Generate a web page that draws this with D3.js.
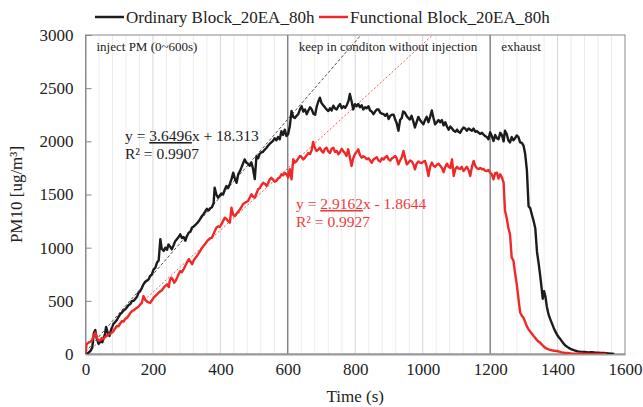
<!DOCTYPE html>
<html>
<head>
<meta charset="utf-8">
<script src="https://cdn.jsdelivr.net/npm/d3@7/dist/d3.min.js"></script>
<style>
  html, body { margin: 0; padding: 0; background: #fff; }
  svg text { font-family: "Liberation Serif", "Times New Roman", serif; }
</style>
</head>
<body>
<svg id="chart" width="643" height="407"></svg>
<script>
// Series names and legend colours
const seriesNames = ["Ordinary Block_20EA_80h", "Functional Block_20EA_80h"];
const seriesColors = ["#1c1c1c", "#f02828"];

// Phase labels placed at the start of each test phase (time in s)
const phaseStarts = [0, 600, 1200];
const phaseLabels = ["inject PM (0~600s)", "keep in conditon without injection", "exhaust"];

// Axis ticks
const xTicks = [0, 200, 400, 600, 800, 1000, 1200, 1400, 1600];
const yTicks = [0, 500, 1000, 1500, 2000, 2500, 3000];

// Linear fits over the injection phase: [slope, intercept, R²]
const ordinaryFit = [3.6496, 18.313, 0.9907];
const functionalFit = [2.9162, -1.8644, 0.9927];

// Ordinary block: [time (s), PM10 (ug/m³)]
const ordinarySeries = [
[0,0],[5,5],[10,15],[15,30],[20,60],[25,200],[29,225],[33,150],[39,95],[45,120],[50,110],[53,145],[58,190],[61,255],[66,200],[71,170],[76,230],[80,260],[83,285],[88,300],[93,320],[98,350],[103,375],[108,390],[113,410],[118,420],[123,440],[128,460],[133,470],[138,500],[143,500],[148,520],[153,540],[157,575],[162,590],[167,620],[172,655],[177,680],[182,690],[187,700],[192,735],[197,750],[202,795],[207,810],[212,860],[217,880],[222,1080],[226,990],[232,970],[237,1000],[242,980],[246,1030],[251,1010],[256,985],[261,1020],[266,1060],[271,1080],[276,1100],[281,1125],[286,1090],[291,1100],[296,1065],[301,1110],[306,1140],[311,1150],[316,1190],[321,1200],[326,1215],[331,1230],[336,1250],[341,1275],[346,1300],[350,1315],[355,1340],[360,1365],[365,1350],[370,1370],[375,1380],[380,1420],[383,1565],[388,1500],[393,1470],[398,1490],[403,1510],[408,1500],[413,1545],[418,1580],[423,1560],[428,1600],[433,1645],[438,1705],[443,1650],[448,1610],[453,1690],[458,1720],[462,1750],[467,1790],[472,1830],[477,1800],[482,1790],[487,1770],[492,1800],[497,1740],[502,1645],[507,1860],[512,1840],[516,1880],[521,1895],[526,1900],[531,1920],[537,1940],[542,1960],[546,1975],[551,1990],[556,2005],[561,2030],[566,2010],[571,2040],[576,2020],[581,2095],[586,2060],[591,2110],[596,2050],[601,2070],[606,2145],[611,2285],[616,2230],[621,2220],[626,2240],[631,2255],[636,2300],[641,2330],[646,2280],[651,2300],[656,2255],[661,2290],[666,2320],[671,2300],[676,2260],[681,2250],[686,2330],[690,2370],[695,2410],[700,2360],[705,2340],[710,2320],[715,2300],[720,2285],[725,2310],[730,2290],[735,2335],[740,2310],[745,2300],[750,2330],[755,2350],[760,2310],[765,2330],[770,2315],[775,2340],[780,2380],[784,2445],[789,2380],[794,2300],[799,2350],[804,2330],[809,2350],[814,2320],[819,2340],[824,2300],[829,2320],[834,2310],[839,2330],[844,2290],[849,2280],[854,2255],[859,2280],[864,2300],[869,2300],[874,2270],[879,2260],[884,2255],[889,2240],[894,2260],[899,2210],[904,2240],[909,2250],[914,2250],[919,2200],[923,2170],[928,2100],[933,2200],[938,2220],[942,2280],[947,2270],[952,2240],[957,2220],[962,2205],[967,2240],[972,2190],[977,2130],[982,2180],[987,2230],[992,2200],[997,2180],[1002,2160],[1007,2200],[1012,2230],[1017,2180],[1022,2230],[1027,2290],[1032,2220],[1037,2160],[1042,2180],[1047,2200],[1052,2180],[1057,2200],[1062,2150],[1067,2180],[1072,2140],[1077,2110],[1082,2140],[1087,2120],[1092,2100],[1097,2090],[1102,2110],[1106,2090],[1111,2080],[1116,2110],[1121,2130],[1126,2120],[1131,2100],[1136,2120],[1141,2110],[1146,2100],[1151,2120],[1156,2090],[1161,2095],[1166,2080],[1171,2070],[1176,2080],[1180,2065],[1185,2050],[1190,2040],[1195,2020],[1200,2085],[1205,2050],[1210,2003],[1215,2060],[1220,2030],[1225,2020],[1230,2080],[1235,2060],[1240,2000],[1244,2100],[1249,2070],[1254,2010],[1259,1990],[1264,2040],[1269,2010],[1274,2030],[1279,2055],[1284,2040],[1289,1990],[1294,1985],[1299,1960],[1304,1880],[1309,1730],[1314,1390],[1319,1370],[1324,1310],[1329,1250],[1334,1180],[1339,960],[1344,850],[1348,750],[1352,640],[1356,520],[1360,590],[1364,540],[1368,450],[1373,375],[1378,330],[1383,290],[1388,250],[1393,215],[1398,185],[1403,160],[1408,140],[1415,110],[1420,90],[1425,75],[1432,60],[1440,45],[1450,35],[1460,25],[1467,22],[1480,20],[1490,15],[1500,18],[1510,14],[1520,12],[1530,10],[1537,10],[1550,6],[1560,3],[1568,0]
];

// Functional block: [time (s), PM10 (ug/m³)]
const functionalSeries = [
[0,0],[3,90],[6,100],[9,107],[14,115],[19,125],[24,170],[29,200],[34,150],[39,125],[44,130],[48,150],[53,140],[58,160],[63,170],[68,185],[73,190],[78,200],[83,215],[88,240],[93,263],[98,260],[103,285],[108,310],[113,305],[118,330],[123,340],[128,360],[133,385],[138,405],[143,410],[148,425],[153,435],[157,445],[162,465],[167,480],[172,545],[177,510],[182,495],[187,485],[192,482],[197,505],[202,530],[207,545],[212,560],[217,577],[222,590],[227,600],[232,625],[237,640],[242,655],[247,630],[250,690],[254,718],[259,700],[263,670],[267,686],[272,720],[276,750],[281,780],[286,770],[291,797],[296,830],[301,860],[306,890],[311,870],[316,845],[321,880],[326,905],[331,922],[336,950],[341,975],[346,1000],[351,1020],[356,1040],[361,1063],[366,1080],[371,1090],[375,1095],[380,1130],[384,1160],[388,1188],[393,1200],[398,1195],[403,1219],[408,1250],[413,1282],[418,1270],[423,1250],[428,1235],[433,1376],[438,1310],[443,1297],[448,1320],[453,1340],[458,1360],[462,1380],[467,1408],[472,1420],[477,1430],[482,1439],[487,1470],[492,1502],[497,1480],[502,1470],[507,1510],[512,1549],[517,1560],[522,1590],[527,1611],[532,1600],[537,1580],[542,1610],[546,1640],[551,1658],[556,1640],[561,1620],[566,1627],[571,1650],[576,1660],[581,1690],[586,1680],[591,1705],[596,1690],[601,1660],[606,1737],[611,1643],[616,1831],[621,1800],[626,1815],[631,1840],[636,1862],[641,1850],[646,1830],[651,1846],[656,1870],[661,1890],[666,1880],[671,1920],[675,1995],[680,1940],[685,1909],[690,1920],[695,1940],[700,1910],[705,1893],[710,1930],[715,1940],[720,1905],[725,1890],[730,1930],[735,1940],[740,1900],[745,1910],[750,1878],[755,1900],[760,1930],[764,1910],[769,1890],[774,1862],[779,1925],[784,1850],[789,1768],[794,1840],[799,1880],[804,1900],[809,1925],[814,1870],[819,1846],[824,1860],[829,1850],[834,1831],[839,1840],[844,1820],[849,1799],[854,1830],[859,1840],[864,1850],[869,1820],[874,1810],[879,1840],[884,1830],[889,1850],[894,1862],[899,1830],[904,1820],[909,1840],[914,1850],[919,1862],[923,1840],[928,1784],[933,1820],[938,1850],[943,1909],[948,1840],[953,1784],[958,1800],[963,1820],[968,1810],[973,1780],[977,1737],[982,1790],[987,1810],[992,1800],[997,1795],[1002,1810],[1007,1815],[1012,1760],[1017,1674],[1022,1760],[1027,1800],[1032,1770],[1037,1760],[1042,1780],[1047,1790],[1052,1770],[1057,1750],[1062,1710],[1067,1760],[1072,1790],[1077,1760],[1082,1750],[1087,1831],[1092,1674],[1097,1740],[1102,1760],[1106,1745],[1111,1740],[1116,1760],[1121,1720],[1126,1740],[1131,1760],[1136,1730],[1141,1674],[1146,1760],[1151,1815],[1156,1770],[1161,1745],[1166,1740],[1171,1750],[1176,1737],[1180,1740],[1185,1725],[1190,1720],[1195,1730],[1200,1705],[1205,1690],[1210,1643],[1215,1700],[1220,1705],[1225,1650],[1230,1690],[1235,1660],[1240,1611],[1244,1350],[1249,1282],[1254,1188],[1259,1125],[1264,906],[1269,880],[1274,760],[1279,655],[1284,520],[1289,390],[1294,360],[1299,341],[1304,300],[1309,260],[1314,232],[1319,210],[1324,190],[1329,169],[1334,150],[1339,130],[1344,115],[1348,107],[1353,90],[1358,75],[1363,60],[1368,50],[1375,42],[1383,35],[1390,30],[1398,28],[1405,22],[1413,15],[1420,12],[1428,10],[1440,6],[1455,3],[1470,2],[1497,0],[1520,0],[1546,0]
];

const svg = d3.select("#chart");
const W = 643, H = 407;
const margin = { left: 85.5, right: 18, top: 35, bottom: 53 };
const plotW = W - margin.left - margin.right;
const plotH = H - margin.top - margin.bottom;

const x = d3.scaleLinear().domain([0, 1600]).range([margin.left, margin.left + plotW]);
const y = d3.scaleLinear().domain([0, 3000]).range([margin.top + plotH, margin.top]);

// Clip for everything drawn inside the plot box
svg.append("defs").append("clipPath").attr("id", "plotClip")
  .append("rect").attr("x", margin.left).attr("y", margin.top)
  .attr("width", plotW).attr("height", plotH);

// Vertical grid: minor every 40 s, major every 200 s
const minorGrid = d3.range(40, 1600, 40).filter(t => t % 200 !== 0);
svg.append("g").selectAll("line").data(minorGrid).join("line")
  .attr("x1", d => x(d)).attr("x2", d => x(d))
  .attr("y1", y(3000)).attr("y2", y(0))
  .attr("stroke", "#ececec").attr("stroke-width", 1);
svg.append("g").selectAll("line")
  .data(xTicks.filter(t => t > 0 && t < 1600 && !phaseStarts.includes(t))).join("line")
  .attr("x1", d => x(d)).attr("x2", d => x(d))
  .attr("y1", y(3000)).attr("y2", y(0))
  .attr("stroke", "#d6d6d6").attr("stroke-width", 1);

// Phase separators
svg.append("g").selectAll("line").data(phaseStarts.slice(1)).join("line")
  .attr("x1", d => x(d)).attr("x2", d => x(d))
  .attr("y1", y(3000)).attr("y2", y(0))
  .attr("stroke", "#4a4a4a").attr("stroke-width", 1);

// Plot border
svg.append("rect")
  .attr("x", margin.left).attr("y", margin.top)
  .attr("width", plotW).attr("height", plotH)
  .attr("fill", "none").attr("stroke", "#8a8a8a").attr("stroke-width", 1);

// Y axis
const yAxis = d3.axisLeft(y).tickValues(yTicks).tickSize(-6).tickPadding(12).tickFormat(d3.format("d"));
const gy = svg.append("g").attr("transform", `translate(${margin.left},0)`).call(yAxis);
gy.select(".domain").attr("stroke", "#8a8a8a");
gy.selectAll(".tick line").attr("stroke", "#8a8a8a");
gy.selectAll(".tick text").attr("font-size", 17).attr("fill", "#222")
  .attr("font-family", "Liberation Serif");

// X axis
const xAxis = d3.axisBottom(x).tickValues(xTicks).tickSize(0).tickPadding(9).tickFormat(d3.format("d"));
const gx = svg.append("g").attr("transform", `translate(0,${y(0)})`).call(xAxis);
gx.select(".domain").attr("stroke", "#999").attr("stroke-width", 2);
gx.selectAll(".tick text").attr("font-size", 17).attr("fill", "#222")
  .attr("font-family", "Liberation Serif");

// Axis titles
svg.append("text").attr("x", x(800)).attr("y", 402)
  .attr("text-anchor", "middle").attr("font-size", 17).attr("fill", "#222")
  .text("Time (s)");
svg.append("text")
  .attr("transform", `translate(22,${y(1500)}) rotate(-90)`)
  .attr("text-anchor", "middle").attr("font-size", 17).attr("fill", "#222")
  .text("PM10 [ug/m³]");

// Phase labels
svg.append("g").selectAll("text").data(phaseStarts).join("text")
  .attr("x", d => x(d) + 11).attr("y", 51)
  .attr("font-size", 13).attr("fill", "#222")
  .text((d, i) => phaseLabels[i]);

// Linear trend lines, drawn up to the top of the plot
const plot = svg.append("g").attr("clip-path", "url(#plotClip)");
const fits = [ordinaryFit, functionalFit];
const fitStyles = [{ stroke: "#505050", dash: "3,2" }, { stroke: "#f05a5a", dash: "2,2" }];
fits.forEach((f, i) => {
  const tEnd = (3000 - f[1]) / f[0];
  plot.append("line")
    .attr("x1", x(0)).attr("y1", y(f[1]))
    .attr("x2", x(tEnd)).attr("y2", y(3000))
    .attr("stroke", fitStyles[i].stroke).attr("stroke-width", 1)
    .attr("stroke-dasharray", fitStyles[i].dash);
});

// Measured series
const line = d3.line().x(d => x(d[0])).y(d => y(d[1]));
[ordinarySeries, functionalSeries].forEach((s, i) => {
  plot.append("path").datum(s)
    .attr("d", line)
    .attr("fill", "none")
    .attr("stroke", seriesColors[i])
    .attr("stroke-width", 2.4)
    .attr("stroke-linejoin", "round");
});

// Fit equations
function equation(fx, fy, f, color) {
  const g = svg.append("g").attr("fill", color).attr("font-size", 15.5);
  const sign = f[1] < 0 ? " - " : " + ";
  const t1 = g.append("text").attr("x", fx).attr("y", fy);
  t1.append("tspan").text("y = ");
  t1.append("tspan").style("text-decoration", "underline").text(f[0].toFixed(4));
  t1.append("tspan").text("x" + sign + Math.abs(f[1]));
  g.append("text").attr("x", fx).attr("y", fy + 18).text("R² = " + f[2]);
}
equation(125, 141, ordinaryFit, "#1c1c1c");
equation(296, 209, functionalFit, "#f03a3a");

// Legend
const legend = svg.append("g");
const legendX = [95, 319];
seriesNames.forEach((name, i) => {
  legend.append("line")
    .attr("x1", legendX[i]).attr("x2", legendX[i] + 29)
    .attr("y1", 17).attr("y2", 17)
    .attr("stroke", seriesColors[i]).attr("stroke-width", 2.5);
  legend.append("text")
    .attr("x", legendX[i] + 31).attr("y", 23)
    .attr("font-size", 17).attr("fill", "#222")
    .text(name);
});
</script>
</body>
</html>
